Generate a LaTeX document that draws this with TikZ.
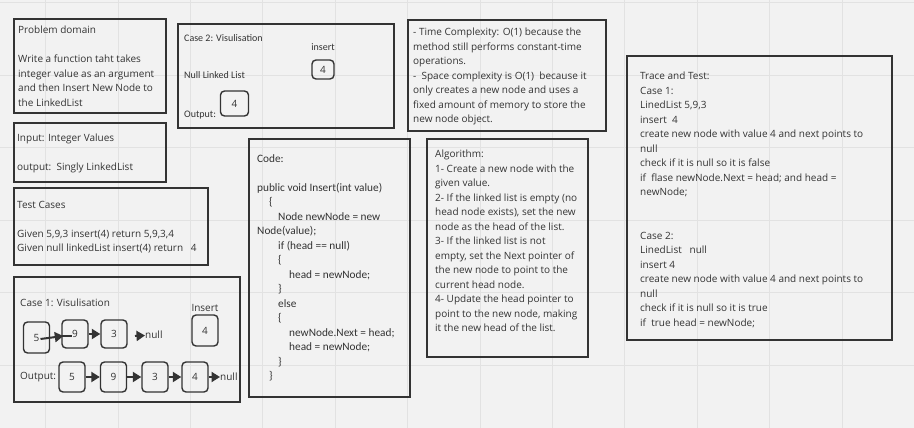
\documentclass[tikz,border=0pt]{standalone}
\usepackage{fontspec}
\setmainfont{Open Sans}
\newfontfamily\narrowfont{Carlito}
\usetikzlibrary{arrows.meta}
\definecolor{ink}{HTML}{333333}
\definecolor{paper}{HTML}{F2F2F2}
\definecolor{gridline}{HTML}{E2E2E2}
\tikzset{
  panel/.style={draw=ink, line width=1.7pt},
  txt/.style={anchor=north west, inner sep=0pt, align=left, text=ink,
    font=\fontsize{10}{14.5}\selectfont},
  ntxt/.style={txt, font=\narrowfont\fontsize{10}{14.5}\selectfont},
  label/.style={anchor=west, inner sep=0pt, text=ink, font=\fontsize{10}{12}\selectfont},
  cell/.style={draw=ink, line width=1.4pt, rounded corners=4pt, minimum width=26pt,
    minimum height=30pt, inner sep=0pt, text=ink, font=\fontsize{10}{12}\selectfont},
  link/.style={draw=ink, line width=2pt, -{Triangle[length=8.5pt,width=10pt]}},
}
\begin{document}
\begin{tikzpicture}[x=1pt,y=-1pt]
  \fill[paper] (0,0) rectangle (914,428);
  \useasboundingbox (0,0) rectangle (914,428);
  % grid
  \foreach \i in {0,...,12}
    \draw[gridline] ({45.3+72.4*\i},0) -- ({45.3+72.4*\i},428);
  \foreach \j in {0,...,5}
    \draw[gridline] (0,{2.5+72.5*\j}) -- (914,{2.5+72.5*\j});

  % panels
  \draw[panel] (14,19) rectangle (166,113);
  \draw[panel] (14,123) rectangle (166,182);
  \draw[panel] (14,188) rectangle (208,265);
  \draw[panel] (14,277) rectangle (240,402);
  \draw[panel] (178,24) rectangle (394,128);
  \draw[panel] (249,139) rectangle (410,397);
  \draw[panel] (408,20) rectangle (606,131);
  \draw[panel] (427,139) rectangle (588,357);
  \draw[panel] (627,56) rectangle (892,340);

  % problem domain
  \node[txt] (domain) at (18,26) {Problem domain\\[14.5pt]
    Write a function taht takes\\
    integer value as an argument\\
    and then Insert New Node to\\
    the LinkedList};
  \node[txt] (io) at (17,134) {Input: Integer Values\\[14.5pt]
    output:\ \ Singly LinkedList};
  \node[txt] (tests) at (17,201) {Test Cases\\[14.5pt]
    Given 5,9,3 insert(4) return 5,9,3,4\\
    Given null linkedList insert(4) return\ \ \ 4};

  % complexity
  \node[txt] (cost) at (413,28) {- Time Complexity: O(1) because the\\
    method still performs constant-time\\
    operations.\\
    -\ \ Space complexity is O(1)\ \ because it\\
    only creates a new node and uses a\\
    fixed amount of memory to store the\\
    new node object.};

  % algorithm
  \node[txt] (algo) at (435,150) {Algorithm:\\
    1- Create a new node with the\\
    given value.\\
    2- If the linked list is empty (no\\
    head node exists), set the new\\
    node as the head of the list.\\
    3- If the linked list is not\\
    empty, set the Next pointer of\\
    the new node to point to the\\
    current head node.\\
    4- Update the head pointer to\\
    point to the new node, making\\
    it the new head of the list.};

  % trace
  \node[txt] (trace) at (640,72) {Trace and Test:\\
    Case 1:\\
    LinedList 5,9,3\\
    insert\ \ 4\\
    create new node with value 4 and next points to\\
    null\\
    check if it is null so it is false\\
    if\ \ flase newNode.Next = head; and head =\\
    newNode;\\[29pt]
    Case 2:\\
    LinedList\ \ \ null\\
    insert 4\\
    create new node with value 4 and next points to\\
    null\\
    check if it is null so it is true\\
    if\ \ true head = newNode;};

  % code
  \node[ntxt, font=\narrowfont\fontsize{11.3}{14.5}\selectfont] (code) at (257,154) {Code:\\[14.5pt]
    public void Insert(int value)\\
    \hspace*{12pt}\{\\
    \hspace*{21pt}Node newNode = new\\
    Node(value);\\
    \hspace*{21pt}if (head == null)\\
    \hspace*{21pt}\{\\
    \hspace*{32pt}head = newNode;\\
    \hspace*{21pt}\}\\
    \hspace*{21pt}else\\
    \hspace*{21pt}\{\\
    \hspace*{32pt}newNode.Next = head;\\
    \hspace*{32pt}head = newNode;\\
    \hspace*{21pt}\}\\
    \hspace*{12pt}\}};

  % case 2
  \node[ntxt] (c2title) at (184,34) {Case 2: Visulisation};
  \node[ntxt] (c2null) at (184,71) {Null Linked List};
  \node[ntxt] (c2out) at (184,111) {Output:};
  \node[ntxt, anchor=north] (c2ins) at (323,43) {insert};
  \node[cell, minimum width=22pt, minimum height=19pt] (c2new) at (323,69.5) {4};
  \node[cell, minimum width=28pt, minimum height=25pt] (c2res) at (234.5,103.5) {4};

  % case 1
  \node[label] (c1title) at (20,303) {Case 1: Visulisation};
  \node[label, anchor=center] (c1ins) at (205,308) {Insert};
  \node[cell, minimum height=31pt] (c1new) at (205,330.5) {4};
  \node[cell, minimum height=31pt] (a5) at (36.5,337.5) {5};
  \node[cell, minimum height=28pt] (a9) at (75,334) {9};
  \node[cell, minimum height=28pt] (a3) at (114,334) {3};
  \node[label] (anull) at (145,335) {null};
  \coordinate (astart) at (135,336);
  \draw[link] ([xshift=4pt,yshift=-1.5pt]a5.center) -- ([xshift=2pt,yshift=-2pt]a9.west);
  \draw[draw=ink, line width=2pt] ([xshift=1pt,yshift=-2pt]a9.west) -- ([xshift=-3pt,yshift=-2pt]a9.center);
  \draw[link] (a9) -- (a3);
  \draw[link] (astart) -- (anull);

  \node[label] (c1out) at (20,377) {Output:};
  \node[cell] (b5) at (72,377) {5};
  \node[cell] (b9) at (113.5,377) {9};
  \node[cell] (b3) at (155,377) {3};
  \node[cell] (b4) at (195,377) {4};
  \node[label] (bnull) at (220,377) {null};
  \draw[link] (b5) -- (b9);
  \draw[link] (b9) -- (b3);
  \draw[link] (b3) -- (b4);
  \draw[link] (b4) -- (bnull);
\end{tikzpicture}
\end{document}
